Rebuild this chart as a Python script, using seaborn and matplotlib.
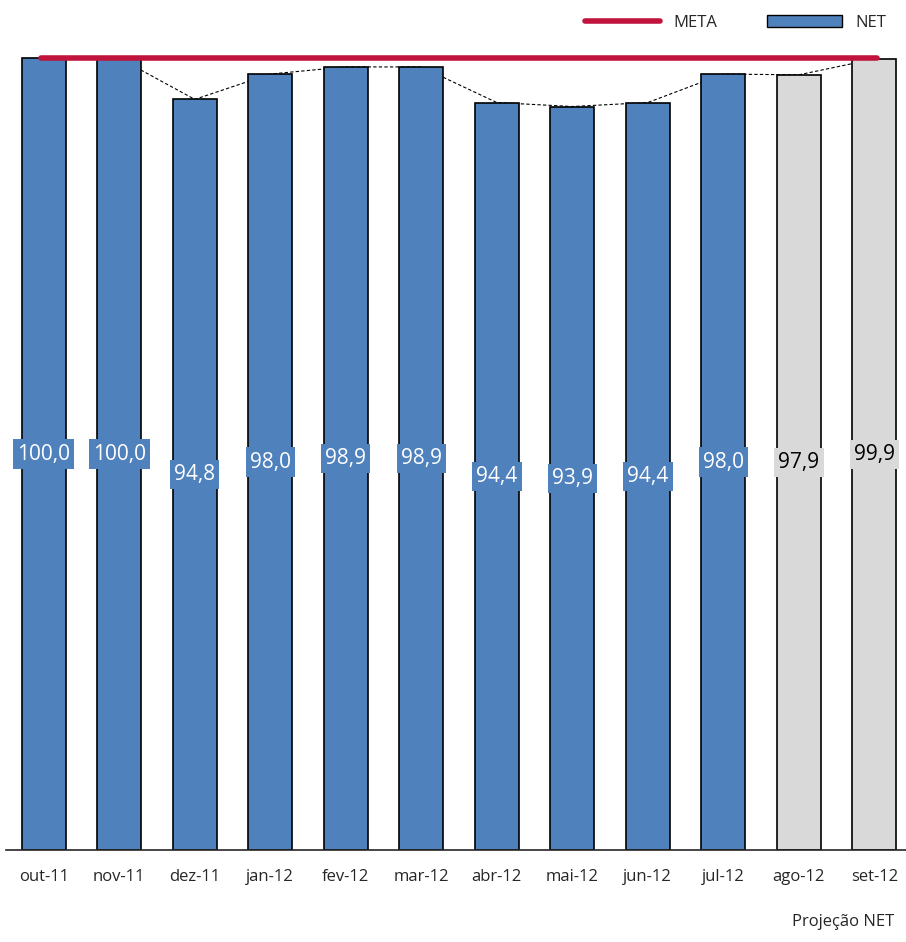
import matplotlib.pyplot as plt
import matplotlib.lines as mlines
import matplotlib.patches as mpatches
import pandas as pd
import seaborn as sns

months = ["out-11", "nov-11", "dez-11", "jan-12", "fev-12", "mar-12",
          "abr-12", "mai-12", "jun-12", "jul-12", "ago-12", "set-12"]
net_values = [100.0, 100.0, 94.8, 98.0, 98.9, 98.9, 94.4, 93.9, 94.4, 98.0, 97.9, 99.9]
is_projection = [False] * 10 + [True] * 2
meta_value = 100.0

BLUE = "#4f81bd"
GREY = "#d9d9d9"
RED = "#c0143c"

sns.set_style("white")
plt.rcParams["font.family"] = ["Open Sans", "DejaVu Sans"]

df = pd.DataFrame({"month": months, "value": net_values, "proj": is_projection})
colors = [GREY if p else BLUE for p in df["proj"]]

fig = plt.figure(figsize=(9.06, 9.42), dpi=100)
ax = fig.add_axes([6 / 906, 1 - 850 / 942, 1 - 6 / 906, (850 - 40) / 942])
sns.barplot(data=df, x="month", y="value", hue="month", palette=colors, legend=False,
            saturation=1, width=0.58, edgecolor="black", linewidth=1.2, ax=ax, zorder=2)

# dashed line along the bar tops
ax.plot(range(len(months)), df["value"], ls=(0, (3, 2)), color="black", lw=0.8, zorder=1)
ax.plot([-0.04, 11.04], [meta_value, meta_value], color=RED, lw=4, zorder=5)

for i, row in df.iterrows():
    fc = GREY if row["proj"] else BLUE
    tc = "black" if row["proj"] else "white"
    ax.text(i, row["value"] / 2, f"{row['value']:.1f}".replace(".", ","),
            ha="center", va="center", fontsize=15, color=tc, zorder=6,
            bbox=dict(boxstyle="square,pad=0.2", fc=fc, ec="none"))

ax.set_xlim(-0.5, 11.42)
ax.set_ylim(0, 102.3)
ax.set_xlabel("")
ax.set_ylabel("")
ax.set_yticks([])
sns.despine(ax=ax, left=True)
ax.spines["bottom"].set_linewidth(1.2)
ax.tick_params(axis="x", labelsize=12, length=0, pad=14)

handles = [mlines.Line2D([], [], color=RED, lw=4, label="META"),
           mpatches.Patch(fc=BLUE, ec="black", label="NET")]
fig.legend(handles=handles, loc="upper right", bbox_to_anchor=(0.995, 1.0), ncol=2,
           frameon=False, fontsize=12, handlelength=4.5, columnspacing=3.0)
fig.text(0.987, 1 - 930 / 942, "Projeção NET", ha="right", va="bottom", fontsize=12)

fig.savefig("out.png", dpi=100)
